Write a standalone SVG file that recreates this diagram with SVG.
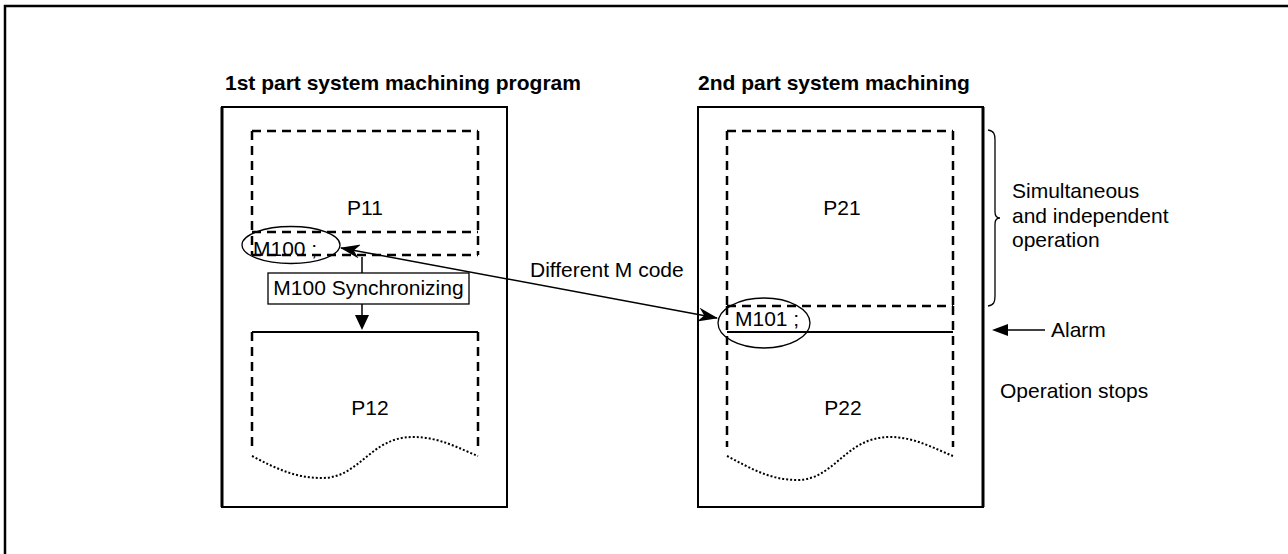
<svg xmlns="http://www.w3.org/2000/svg" width="1288" height="554" viewBox="0 0 1288 554">
<style>
text{font-family:"Liberation Sans",Arial,sans-serif;font-size:21px;fill:#000}
.b{font-weight:bold}
.solid{fill:none;stroke:#000;stroke-width:2}
.dash{fill:none;stroke:#000;stroke-width:2.5;stroke-dasharray:9 6}
.dot{fill:none;stroke:#000;stroke-width:2;stroke-dasharray:2 2}
.thin{fill:none;stroke:#000;stroke-width:1.5}
</style>
<defs>
<marker id="barb" viewBox="0 0 20 14" refX="19" refY="7" markerWidth="20" markerHeight="14" markerUnits="userSpaceOnUse" orient="auto-start-reverse">
<path d="M0,0 L20,7 L0,14 L6,7 Z" fill="#000"/>
</marker>
</defs>
<rect width="1288" height="554" fill="#fff"/>
<g id="frame"><path d="M5,554 V6 H1288" fill="none" stroke="#000" stroke-width="2.5"/></g>
<g id="title1"><text class="b" x="225" y="90">1st part system machining program</text></g>
<g id="title2"><text class="b" x="698" y="90">2nd part system machining</text></g>
<g id="box1">
<rect class="solid" x="222" y="107" width="285" height="400"/>
<line x1="222" y1="107" x2="222" y2="507" stroke="#000" stroke-width="3"/>
</g>
<g id="box2">
<rect class="solid" x="698" y="107" width="285" height="400"/>
<line x1="983" y1="107" x2="983" y2="507" stroke="#000" stroke-width="3"/>
</g>
<g id="P11">
<path class="dash" d="M252,131 H478 M252,131 V255 M478,131 V255 M252,232 H478 M252,255 H478"/>
<text x="365" y="215" text-anchor="middle">P11</text>
</g>
<g id="P12">
<path class="solid" d="M252,332 H478"/>
<path class="dash" d="M252,332 V447 M478,332 V447"/>
<path class="dot" d="M252,456 C275,468 295,478 322,478 C360,478 370,437 413,437 C440,437 460,449 478,456"/>
<text x="370" y="415" text-anchor="middle">P12</text>
</g>
<g id="P21">
<path class="dash" d="M727,131 H953 M727,131 V306 M953,131 V306 M727,306 H953"/>
<text x="842" y="215" text-anchor="middle">P21</text>
</g>
<g id="P22">
<path class="solid" d="M727,332 H953"/>
<path class="dash" d="M727,306 V447 M953,306 V447"/>
<path class="dot" d="M727,456 C750,468 770,480 797,480 C835,480 845,437 890,437 C915,437 935,449 953,456"/>
<text x="843" y="415" text-anchor="middle">P22</text>
</g>
<g id="M100">
<ellipse cx="291" cy="245" rx="49" ry="18.5" fill="none" stroke="#000" stroke-width="1.3"/>
<text x="253" y="256">M100 ;</text>
</g>
<g id="M101">
<ellipse cx="764" cy="323" rx="46" ry="25" fill="none" stroke="#000" stroke-width="1.3"/>
<text x="735" y="326">M101 ;</text>
</g>
<g id="sync">
<rect x="268" y="273" width="201" height="31" fill="#fff" stroke="#000" stroke-width="1.3"/>
<text x="368.5" y="295" text-anchor="middle">M100 Synchronizing</text>
</g>
<g id="brace">
<path d="M988,130 C994,131 995,134 995,140 V212 C995,216 997,218 1000,218 C997,218 995,220 995,224 V296 C995,302 994,305 988,306" fill="none" stroke="#000" stroke-width="1.3"/>
</g>
<g id="labels">
<text x="530" y="277">Different M code</text>
<text x="1012" y="198">Simultaneous</text>
<text x="1012" y="223">and independent</text>
<text x="1012" y="247">operation</text>
<text x="1051" y="337">Alarm</text>
<text x="1000" y="398">Operation stops</text>
</g>
<g id="connectors">
<line class="thin" x1="362" y1="257" x2="362" y2="273"/>
<line class="thin" x1="362" y1="304" x2="362" y2="316"/>
<path d="M355,315 L369,315 L362,330 Z" fill="#000"/>
<line class="thin" x1="341" y1="248" x2="717" y2="318" marker-start="url(#barb)" marker-end="url(#barb)"/>
<line class="thin" x1="1007" y1="330" x2="1045" y2="330"/>
<path d="M992,330 L1008,324 L1008,336 Z" fill="#000"/>
</g>
</svg>
